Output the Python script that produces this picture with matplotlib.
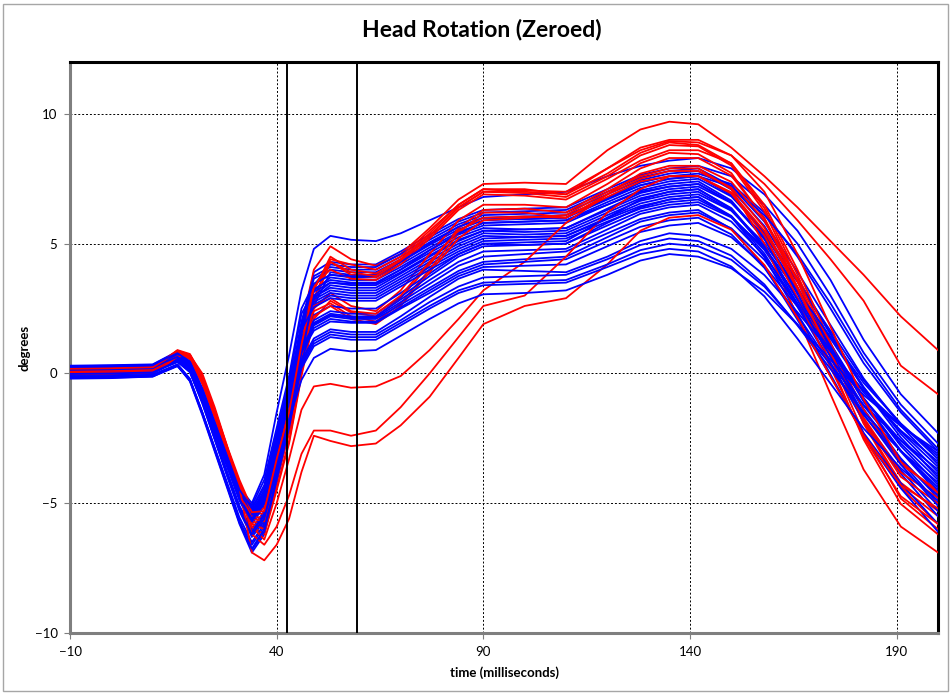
import matplotlib
matplotlib.use('Agg')
import matplotlib.pyplot as plt
from matplotlib.patches import Rectangle

# sample times (ms) shared by every run
time_ms = [-10, 0, 10, 13, 16, 19, 22, 25, 28, 31, 34, 37, 40, 43, 46, 49, 53, 58, 64, 70,
           77, 84, 90, 100, 110, 120, 128, 135, 142, 150, 158, 166, 174, 182, 191, 200]

# blue runs (head rotation, degrees)
b01 = [0.3, 0.32, 0.35, 0.6, 0.85, 0.45, -0.6, -1.9, -3.2, -4.4, -5.0, -3.9, -1.5, 0.7, 3.2, 4.8, 5.3, 5.15, 5.1, 5.4, 5.9, 6.4, 6.8, 6.9, 7.0, 7.6, 8.0, 8.2, 8.3, 7.9, 6.9, 5.5, 3.6, 1.3, -0.8, -2.3]
b02 = [0.15, 0.2, 0.25, 0.5, 0.7, 0.3, -0.9, -2.2, -3.5, -4.8, -5.6, -4.9, -2.9, -0.9, 1.7, 3.9, 4.3, 4.2, 4.2, 4.7, 5.35, 5.95, 6.3, 6.35, 6.4, 7.1, 7.65, 7.9, 8.0, 7.6, 6.5, 5.0, 3.0, 0.8, -1.2, -2.7]
b03 = [0.05, 0.05, 0.1, 0.35, 0.55, 0.15, -1.0, -2.4, -3.8, -5.1, -6.0, -5.3, -3.4, -1.4, 1.2, 3.4, 4.2, 4.1, 4.1, 4.6, 5.25, 5.85, 6.2, 6.25, 6.3, 7.0, 7.55, 7.8, 7.9, 7.22, 5.85, 3.91, 1.86, -0.19, -2.02, -3.5]
b04 = [0.0, 0.0, 0.05, 0.3, 0.5, 0.2, -0.8, -2.1, -3.4, -4.7, -5.4, -4.6, -2.6, -0.6, 2.0, 3.75, 4.1, 4.0, 4.0, 4.5, 5.15, 5.75, 6.1, 6.15, 6.2, 6.9, 7.45, 7.7, 7.8, 7.09, 5.68, 3.67, 1.55, -0.58, -2.47, -4.0]
b05 = [0.2, 0.25, 0.3, 0.55, 0.75, 0.45, -0.6, -1.9, -3.2, -4.5, -5.3, -4.7, -2.8, -0.8, 1.8, 3.65, 4.0, 3.9, 3.9, 4.4, 5.05, 5.65, 6.0, 5.95, 6.0, 6.75, 7.35, 7.6, 7.7, 7.3, 6.2, 4.5, 2.5, 0.4, -1.5, -3.0]
b06 = [-0.15, -0.15, -0.1, 0.1, 0.3, -0.3, -1.6, -3.0, -4.4, -5.8, -6.9, -6.2, -4.2, -2.2, 0.4, 2.6, 3.9, 3.8, 3.8, 4.3, 4.95, 5.55, 5.9, 5.95, 6.0, 6.7, 7.25, 7.5, 7.6, 6.87, 5.4, 3.33, 1.13, -1.06, -3.01, -4.6]
b07 = [0.1, 0.12, 0.18, 0.42, 0.62, 0.25, -0.95, -2.3, -3.6, -4.9, -5.8, -5.1, -3.1, -1.1, 1.5, 3.45, 3.8, 3.7, 3.7, 4.2, 4.85, 5.45, 5.8, 5.85, 5.9, 6.6, 7.15, 7.4, 7.5, 6.82, 5.47, 3.55, 1.51, -0.52, -2.33, -3.8]
b08 = [0.0, 0.02, 0.08, 0.3, 0.5, 0.1, -1.1, -2.5, -3.9, -5.2, -6.2, -5.6, -3.6, -1.6, 1.0, 3.2, 3.7, 3.6, 3.6, 4.1, 4.75, 5.35, 5.7, 5.75, 5.8, 6.5, 7.05, 7.3, 7.4, 6.66, 5.17, 3.06, 0.83, -1.4, -3.39, -5.0]
b09 = [0.08, 0.1, 0.12, 0.38, 0.58, 0.22, -0.85, -2.15, -3.45, -4.75, -5.5, -4.8, -2.8, -0.8, 1.8, 3.25, 3.6, 3.5, 3.5, 4.0, 4.65, 5.25, 5.6, 5.55, 5.6, 6.35, 6.95, 7.2, 7.3, 6.6, 5.21, 3.24, 1.15, -0.94, -2.79, -4.3]
b10 = [0.25, 0.28, 0.3, 0.55, 0.8, 0.4, -0.7, -2.0, -3.3, -4.6, -5.2, -4.3, -2.3, -0.3, 2.3, 3.15, 3.5, 3.4, 3.4, 3.9, 4.55, 5.15, 5.5, 5.55, 5.6, 6.3, 6.85, 7.1, 7.2, 6.57, 5.31, 3.53, 1.64, -0.26, -1.94, -3.3]
b11 = [-0.1, -0.1, -0.05, 0.15, 0.35, -0.2, -1.5, -2.9, -4.3, -5.7, -6.6, -5.9, -3.9, -1.9, 0.7, 2.9, 3.4, 3.3, 3.3, 3.85, 4.5, 5.1, 5.5, 5.45, 5.5, 6.2, 6.75, 7.0, 7.1, 6.34, 4.83, 2.69, 0.42, -1.85, -3.86, -5.5]
b12 = [0.18, 0.2, 0.25, 0.5, 0.72, 0.35, -0.75, -2.05, -3.35, -4.65, -5.5, -4.9, -3.0, -1.0, 1.6, 2.95, 3.3, 3.2, 3.2, 3.75, 4.4, 5.0, 5.4, 5.35, 5.4, 6.1, 6.65, 6.9, 7.0, 6.29, 4.88, 2.87, 0.75, -1.38, -3.27, -4.8]
b13 = [0.12, 0.15, 0.2, 0.45, 0.65, 0.3, -0.9, -2.2, -3.5, -4.8, -5.7, -5.0, -3.0, -1.0, 1.6, 2.85, 3.2, 3.1, 3.1, 3.65, 4.3, 4.9, 5.3, 5.25, 5.3, 6.0, 6.55, 6.8, 6.9, 6.27, 5.01, 3.23, 1.34, -0.56, -2.24, -3.6]
b14 = [-0.05, -0.03, 0.02, 0.25, 0.45, 0.05, -1.15, -2.55, -3.95, -5.3, -6.3, -5.7, -3.7, -1.7, 0.9, 2.75, 3.1, 3.0, 3.0, 3.55, 4.2, 4.8, 5.2, 5.25, 5.3, 5.95, 6.45, 6.7, 6.8, 6.03, 4.48, 2.29, -0.04, -2.36, -4.42, -6.1]
b15 = [0.02, 0.03, 0.06, 0.3, 0.5, 0.18, -0.85, -2.15, -3.45, -4.75, -5.5, -4.7, -2.7, -0.7, 1.8, 2.65, 3.0, 2.9, 2.9, 3.45, 4.1, 4.7, 5.1, 5.15, 5.2, 5.85, 6.35, 6.6, 6.7, 6.05, 4.76, 2.92, 0.98, -0.97, -2.7, -4.1]
b16 = [0.28, 0.3, 0.33, 0.58, 0.82, 0.42, -0.65, -1.95, -3.25, -4.5, -5.1, -4.1, -2.1, -0.1, 2.5, 3.45, 3.8, 3.75, 3.75, 4.3, 5.0, 5.65, 6.0, 6.05, 6.1, 6.75, 7.25, 7.5, 7.6, 7.2, 6.1, 4.6, 2.7, 0.6, -1.4, -2.9]
b17 = [-0.2, -0.18, -0.12, 0.08, 0.28, -0.25, -1.5, -2.85, -4.2, -5.55, -6.5, -5.8, -3.8, -1.8, 0.8, 3.0, 3.5, 3.45, 3.45, 4.0, 4.75, 5.4, 5.8, 5.85, 5.9, 6.5, 7.0, 7.2, 7.3, 6.59, 5.18, 3.17, 1.05, -1.08, -2.97, -4.5]
b18 = [0.22, 0.24, 0.28, 0.52, 0.74, 0.4, -0.7, -2.0, -3.3, -4.6, -5.4, -4.8, -2.9, -0.9, 1.4, 2.25, 2.6, 2.5, 2.5, 3.1, 3.85, 4.6, 5.0, 4.95, 5.0, 5.7, 6.25, 6.5, 6.6, 6.01, 4.84, 3.17, 1.41, -0.36, -1.93, -3.2]
b19 = [0.04, 0.06, 0.1, 0.34, 0.54, 0.14, -1.0, -2.4, -3.8, -5.15, -6.1, -5.4, -3.5, -1.5, 1.1, 2.05, 2.4, 2.3, 2.3, 2.95, 3.75, 4.5, 4.9, 4.95, 5.0, 5.8, 6.4, 6.7, 6.8, 6.07, 4.62, 2.57, 0.39, -1.79, -3.73, -5.3]
b20 = [0.05, 0.06, 0.08, 0.32, 0.52, 0.2, -0.82, -2.12, -3.42, -4.72, -5.45, -4.7, -2.7, -0.7, 1.1, 1.95, 2.3, 2.2, 2.2, 2.85, 3.6, 4.3, 4.7, 4.75, 4.8, 5.55, 6.15, 6.4, 6.5, 5.85, 4.54, 2.69, 0.72, -1.24, -2.98, -4.4]
b21 = [-0.12, -0.1, -0.06, 0.14, 0.34, -0.22, -1.5, -2.9, -4.3, -5.7, -6.8, -6.1, -4.1, -2.1, 0.5, 1.9, 2.25, 2.15, 2.15, 2.75, 3.45, 4.15, 4.5, 4.6, 4.7, 5.4, 5.95, 6.2, 6.3, 5.57, 4.12, 2.07, -0.11, -2.29, -4.23, -5.8]
b22 = [0.16, 0.18, 0.22, 0.48, 0.68, 0.28, -0.92, -2.22, -3.52, -4.82, -5.65, -4.95, -2.95, -0.95, 1.0, 1.85, 2.2, 2.1, 2.1, 2.65, 3.3, 3.95, 4.3, 4.4, 4.5, 5.25, 5.85, 6.1, 6.2, 5.59, 4.38, 2.67, 0.85, -0.97, -2.59, -3.9]
b23 = [0.24, 0.26, 0.3, 0.54, 0.76, 0.44, -0.62, -1.92, -3.22, -4.52, -5.3, -4.6, -2.6, -0.6, 0.9, 1.75, 2.1, 2.0, 2.0, 2.55, 3.2, 3.85, 4.2, 4.3, 4.4, 5.1, 5.65, 5.9, 6.0, 5.36, 4.07, 2.26, 0.33, -1.6, -3.31, -4.7]
b24 = [0.0, 0.0, 0.05, 0.28, 0.48, 0.08, -1.08, -2.48, -3.88, -5.2, -6.1, -5.5, -3.5, -1.5, 0.8, 1.65, 2.0, 1.95, 1.95, 2.5, 3.1, 3.75, 4.1, 4.15, 4.2, 4.9, 5.45, 5.7, 5.8, 5.25, 4.14, 2.58, 0.92, -0.73, -2.2, -3.4]
b25 = [0.2, 0.22, 0.26, 0.5, 0.74, 0.36, -0.72, -2.02, -3.32, -4.62, -5.3, -4.5, -2.5, -0.5, 0.5, 1.35, 1.7, 1.6, 1.6, 2.2, 2.95, 3.65, 4.0, 3.95, 3.9, 4.5, 5.1, 5.4, 5.3, 4.8, 3.79, 2.36, 0.85, -0.66, -2.01, -3.1]
b26 = [-0.05, -0.04, 0.0, 0.24, 0.44, 0.12, -0.9, -2.2, -3.5, -4.8, -5.6, -4.9, -3.0, -1.0, 0.4, 1.25, 1.6, 1.5, 1.5, 2.05, 2.75, 3.35, 3.7, 3.75, 3.8, 4.4, 4.95, 5.2, 5.1, 4.54, 3.43, 1.85, 0.17, -1.5, -2.99, -4.2]
b27 = [0.14, 0.16, 0.2, 0.44, 0.64, 0.26, -0.94, -2.24, -3.54, -4.84, -5.7, -5.0, -3.1, -1.1, 0.3, 1.15, 1.5, 1.4, 1.4, 1.95, 2.6, 3.2, 3.5, 3.55, 3.6, 4.2, 4.75, 5.0, 4.9, 4.38, 3.35, 1.89, 0.34, -1.21, -2.58, -3.7]
b28 = [-0.18, -0.16, -0.12, 0.1, 0.3, -0.28, -1.55, -2.95, -4.35, -5.75, -6.75, -6.0, -4.0, -2.0, 0.2, 1.05, 1.4, 1.3, 1.3, 1.85, 2.5, 3.1, 3.4, 3.45, 3.5, 4.1, 4.6, 4.8, 4.7, 4.12, 2.97, 1.34, -0.39, -2.12, -3.65, -4.9]
b29 = [-0.02, 0.0, 0.04, 0.26, 0.46, 0.06, -1.1, -2.5, -3.9, -5.25, -6.2, -5.6, -3.8, -1.8, -0.25, 0.6, 0.95, 0.85, 0.9, 1.45, 2.1, 2.7, 3.05, 3.1, 3.2, 3.8, 4.35, 4.6, 4.5, 4.05, 3.15, 1.88, 0.53, -0.83, -2.03, -3.0]
b30 = [0.26, 0.28, 0.32, 0.56, 0.78, 0.46, -0.58, -1.88, -3.18, -4.48, -5.2, -4.4, -2.4, -0.4, 1.7, 2.55, 2.9, 2.8, 2.8, 3.35, 4.0, 4.6, 5.0, 5.05, 5.1, 6.0, 6.7, 7.0, 7.1, 6.37, 4.9, 2.83, 0.63, -1.56, -3.51, -5.1]

# red runs
r01 = [0.2, 0.2, 0.25, 0.55, 0.9, 0.75, -0.1, -1.4, -2.8, -4.1, -5.2, -5.0, -3.0, -1.0, 1.8, 4.0, 4.9, 4.4, 4.15, 4.6, 5.6, 6.7, 7.3, 7.35, 7.3, 8.6, 9.4, 9.7, 9.6, 8.7, 7.6, 6.4, 5.1, 3.8, 2.2, 0.9]
r02 = [0.1, 0.12, 0.18, 0.45, 0.8, 0.6, -0.35, -1.65, -3.05, -4.4, -5.6, -5.5, -3.7, -1.9, 0.7, 2.9, 4.4, 4.2, 4.0, 4.5, 5.5, 6.5, 7.1, 7.0, 6.9, 7.9, 8.7, 9.0, 9.0, 8.4, 7.3, 5.9, 4.4, 2.8, 0.3, -0.8]
r03 = [0.15, 0.15, 0.2, 0.5, 0.85, 0.68, -0.2, -1.5, -2.9, -4.25, -5.4, -5.4, -3.4, -1.6, 1.0, 3.2, 4.5, 4.0, 3.85, 4.4, 5.4, 6.5, 7.1, 7.1, 6.9, 7.7, 8.5, 8.9, 8.8, 8.09, 6.37, 3.8, 0.94, -1.93, -4.36, -5.5]
r04 = [0.05, 0.08, 0.12, 0.4, 0.75, 0.55, -0.4, -1.7, -3.1, -4.5, -5.8, -5.9, -3.9, -2.1, 0.5, 2.7, 4.3, 3.8, 3.7, 4.3, 5.3, 6.4, 7.0, 6.95, 6.8, 7.6, 8.4, 8.8, 8.75, 8.01, 6.24, 3.59, 0.64, -2.31, -4.82, -6.0]
r05 = [0.2, 0.22, 0.25, 0.55, 0.88, 0.72, -0.15, -1.45, -2.85, -4.2, -5.3, -5.2, -3.2, -1.4, 1.2, 3.4, 4.0, 3.65, 3.6, 4.2, 5.2, 6.3, 6.9, 6.85, 6.7, 7.5, 8.2, 8.6, 8.6, 8.1, 6.5, 4.0, 1.2, -1.8, -4.4, -5.8]
r06 = [0.1, 0.1, 0.15, 0.42, 0.78, 0.6, -0.35, -1.65, -3.05, -4.45, -5.7, -5.8, -4.1, -2.3, 0.3, 2.5, 3.1, 2.6, 2.4, 3.2, 4.6, 5.9, 6.5, 6.5, 6.4, 7.3, 8.1, 8.5, 8.45, 7.72, 5.96, 3.32, 0.39, -2.54, -5.03, -6.2]
r07 = [0.0, 0.02, 0.08, 0.35, 0.7, 0.58, -0.3, -1.6, -3.0, -4.45, -5.9, -6.2, -4.5, -2.7, -0.1, 2.1, 2.8, 2.35, 2.2, 2.9, 4.2, 5.6, 6.3, 6.35, 6.2, 7.1, 7.9, 8.3, 8.3, 7.62, 5.99, 3.54, 0.82, -1.9, -4.21, -5.3]
r08 = [0.15, 0.18, 0.22, 0.5, 0.85, 0.7, -0.2, -1.5, -2.9, -4.3, -5.5, -5.6, -3.8, -2.0, 0.6, 2.4, 2.7, 2.2, 2.0, 2.7, 4.0, 5.4, 6.2, 6.2, 6.0, 6.9, 7.7, 8.0, 8.0, 7.38, 5.88, 3.63, 1.13, -1.38, -3.5, -4.5]
r09 = [0.05, 0.05, 0.1, 0.38, 0.72, 0.62, -0.25, -1.55, -2.95, -4.4, -5.8, -6.0, -4.4, -2.6, 0.0, 2.2, 2.6, 2.1, 1.9, 2.6, 3.9, 5.2, 5.9, 6.0, 6.1, 7.0, 7.6, 7.9, 7.9, 7.1, 5.0, 2.2, -0.8, -3.7, -5.9, -6.9]
r10 = [0.12, 0.14, 0.18, 0.46, 0.82, 0.66, -0.28, -1.58, -2.98, -4.35, -5.6, -5.7, -4.0, -2.2, 0.4, 2.6, 2.9, 2.4, 2.3, 3.0, 4.3, 5.5, 6.0, 6.05, 6.0, 6.8, 7.4, 7.6, 7.6, 6.98, 5.49, 3.26, 0.78, -1.7, -3.81, -4.8]
r11 = [0.08, 0.1, 0.14, 0.4, 0.75, 0.65, -0.2, -1.5, -2.95, -4.4, -5.9, -6.4, -5.0, -3.3, -1.4, -0.5, -0.4, -0.55, -0.5, -0.1, 0.9, 2.1, 3.2, 4.3, 5.8, 6.9, 7.5, 7.8, 7.8, 7.16, 5.62, 3.32, 0.76, -1.8, -3.98, -5.0]
r12 = [0.02, 0.04, 0.08, 0.32, 0.68, 0.66, -0.1, -1.4, -2.85, -4.4, -6.2, -6.6, -5.9, -4.7, -3.1, -2.2, -2.2, -2.4, -2.2, -1.3, 0.0, 1.4, 2.6, 3.0, 4.5, 6.2, 7.1, 7.6, 7.6, 6.93, 5.32, 2.91, 0.23, -2.45, -4.73, -5.8]
r13 = [-0.02, 0.0, 0.05, 0.3, 0.65, 0.7, 0.0, -1.3, -2.8, -4.4, -6.9, -7.2, -6.6, -5.6, -3.8, -2.4, -2.6, -2.8, -2.7, -2.0, -0.9, 0.6, 1.9, 2.6, 2.9, 4.2, 5.5, 6.0, 6.1, 5.54, 4.18, 2.15, -0.12, -2.38, -4.3, -5.2]
r14 = [0.18, 0.2, 0.24, 0.52, 0.88, 0.7, -0.18, -1.48, -2.88, -4.25, -5.35, -5.3, -3.3, -1.5, 1.1, 3.3, 4.3, 3.9, 3.75, 4.35, 5.3, 6.4, 7.0, 7.05, 7.0, 7.9, 8.6, 8.95, 8.9, 8.4, 7.0, 4.6, 1.8, -1.0, -3.4, -4.6]

blue_runs = [b01, b02, b03, b04, b05, b06, b07, b08, b09, b10, b11, b12, b13, b14, b15,
             b16, b17, b18, b19, b20, b21, b22, b23, b24, b25, b26, b27, b28, b29, b30]
red_runs = [r01, r02, r03, r04, r05, r06, r07, r08, r09, r10, r11, r12, r13, r14]

# marker lines (ms)
events_ms = [42.6, 59.5]

x_ticks = [-10, 40, 90, 140, 190]
y_ticks = [-10, -5, 0, 5, 10]

plt.rcParams['font.family'] = ['Lato', 'DejaVu Sans']

fig = plt.figure(figsize=(9.51, 6.95), dpi=100)
ax = fig.add_axes([70 / 951, 62 / 695, 868 / 951, 571 / 695])

# mix the two groups so neither sits fully on top
order = []
ri = 0
for i, run in enumerate(blue_runs):
    order.append((run, '#0000FF'))
    if i % 2 == 1 and ri < len(red_runs):
        order.append((red_runs[ri], '#FF0000'))
        ri += 1
for run in red_runs[ri:]:
    order.append((run, '#FF0000'))

for run, col in order:
    ax.plot(time_ms, run, color=col, linewidth=1.3, zorder=3)

for t in events_ms:
    ax.axvline(t, color='black', linewidth=1.4, zorder=4)

ax.set_xlim(-10, 200)
ax.set_ylim(-10, 12)
ax.set_xticks(x_ticks)
ax.set_yticks(y_ticks)
ax.grid(True, color='black', linestyle=(0, (2, 2)), linewidth=0.7, zorder=1)
ax.set_axisbelow(True)

for side in ['top', 'right']:
    ax.spines[side].set_color('black')
    ax.spines[side].set_linewidth(2.2)
for side in ['left', 'bottom']:
    ax.spines[side].set_color('#7f7f7f')
    ax.spines[side].set_linewidth(2.2)

ax.tick_params(direction='out', length=4, width=0.8, color='#7f7f7f',
               labelsize=9.5, pad=5)

ax.set_xlabel('time (milliseconds)', fontsize=9.5, fontweight='bold', labelpad=6)
ax.set_ylabel('degrees', fontsize=9.5, fontweight='bold', labelpad=3)

fig.text(0.507, 0.957, 'Head Rotation (Zeroed)', ha='center', va='center',
         fontsize=16.5, fontweight='bold')

fig.patches.append(Rectangle((3 / 951, 4 / 695), 945 / 951, 687 / 695,
                             transform=fig.transFigure, fill=False,
                             edgecolor='#a6a6a6', linewidth=1.0))

fig.savefig('out.png', dpi=100)
